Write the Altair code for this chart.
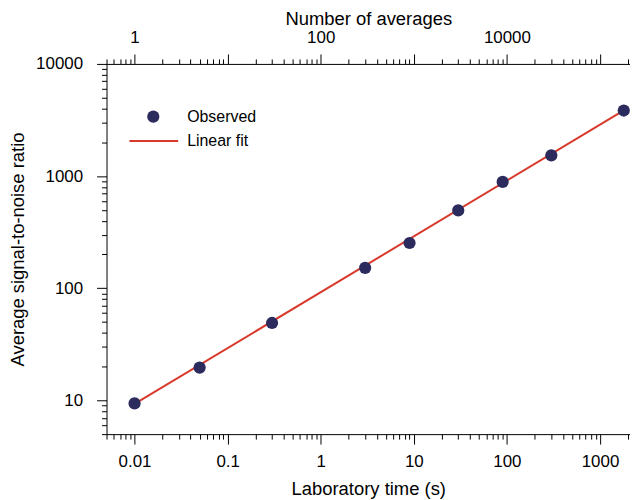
import altair as alt
import pandas as pd

time_s = [0.01, 0.05, 0.3, 3, 9, 30, 90, 300, 1800]
snr = [9.4, 19.6, 49, 152, 253, 494, 887, 1530, 3840]
# Linear fit (log-log) endpoints
fit_time = [0.01, 1800]
fit_snr = [9.3, 3850]

# Axis ticks
x_decades = [-3, -2, -1, 0, 1, 2, 3]
y_decades = [0, 1, 2, 3, 4]
avg_decades = [-1, 0, 1, 2, 3, 4, 5]
multipliers = [1, 2, 3, 4, 5, 6, 7, 8, 9]

x_dom = [0.005, 2100]
y_dom = [5, 10000]
avg_dom = [0.5, 210000]

def ticks(decades, dom):
    out = []
    for d in decades:
        for m in multipliers:
            v = float(f"{m}e{d}")
            if dom[0] - 1e-12 <= v <= dom[1] + 1e-12:
                out.append(v)
    return out

x_ticks = ticks(x_decades, x_dom)
y_ticks = ticks(y_decades, y_dom)
avg_ticks = ticks(avg_decades, avg_dom)

obs = pd.DataFrame({"time": time_s, "snr": snr, "series": ["Observed"] * len(time_s)})
obs["avg"] = [t * 100 for t in time_s]
fit = pd.DataFrame({"time": fit_time, "snr": fit_snr, "series": ["Linear fit"] * len(fit_time)})

FONT = "Liberation Sans"
NAVY = "#2c2b5e"
RED = "#d8392b"

is_major = "abs(log(datum.value)/LN10 - round(log(datum.value)/LN10)) < 0.001"
major_size = {"condition": {"test": is_major, "value": 10}, "value": 5}

axis_common = dict(
    domainColor="black", domainWidth=1, tickColor="black", tickWidth=1,
    labelColor="black", titleColor="black", labelFont=FONT, titleFont=FONT,
    labelFontSize=17, titleFontSize=18.5, titleFontWeight="normal",
    grid=False, tickSize=major_size,
    labelFlush=False, labelOverlap=False,
)

x_axis = alt.Axis(
    values=x_ticks, title="Laboratory time (s)", orient="bottom",
    labelExpr=f"({is_major}) ? format(datum.value, '~g') : ''",
    labelPadding=10, titlePadding=10, **axis_common,
)
y_axis = alt.Axis(
    values=y_ticks, title="Average signal-to-noise ratio",
    labelExpr=f"({is_major}) ? format(datum.value, '~g') : ''",
    labelPadding=14, titlePadding=8, **axis_common,
)
top_axis = alt.Axis(
    values=avg_ticks, title="Number of averages", orient="top",
    labelExpr=f"({is_major}) && (round(log(datum.value)/LN10) % 2 == 0) ? format(datum.value, '~g') : ''",
    labelPadding=8, titlePadding=0, **axis_common,
)

xs = alt.Scale(type="log", domain=x_dom, nice=False)
ys = alt.Scale(type="log", domain=y_dom, nice=False)

line = alt.Chart(fit).mark_line(strokeWidth=2, clip=True).encode(
    x=alt.X("time:Q", scale=xs, axis=x_axis),
    y=alt.Y("snr:Q", scale=ys, axis=y_axis),
    color=alt.Color(
        "series:N", scale=alt.Scale(domain=["Linear fit"], range=[RED]),
        legend=alt.Legend(
            orient="none", legendX=22, legendY=52, title=None, padding=0,
            symbolType="stroke", symbolSize=2401, symbolStrokeWidth=2,
            labelFont=FONT, labelFontSize=16, labelColor="black", labelOffset=8,
        ),
    ),
)

points = alt.Chart(obs).mark_point(filled=True, size=150, opacity=1).encode(
    x=alt.X("time:Q", scale=xs, axis=x_axis),
    y=alt.Y("snr:Q", scale=ys, axis=y_axis),
    color=alt.Color(
        "series:N", scale=alt.Scale(domain=["Observed"], range=[NAVY]),
        legend=alt.Legend(
            orient="none", legendX=39, legendY=45, title=None, padding=0,
            symbolType="circle", symbolSize=150, symbolOpacity=1,
            labelFont=FONT, labelFontSize=16, labelColor="black", labelOffset=26,
        ),
    ),
)

top = alt.Chart(obs).mark_point(opacity=0).encode(
    x=alt.X("avg:Q", scale=alt.Scale(type="log", domain=avg_dom, nice=False), axis=top_axis),
)

main = alt.layer(line, points).resolve_scale(color="independent")

chart = (
    alt.layer(main, top)
    .resolve_scale(x="independent", color="independent")
    .properties(width=526, height=372, padding=0, background="white")
    .configure_view(stroke=None)
)

chart.save("out.html", embed_options={"renderer": "svg", "actions": False})
